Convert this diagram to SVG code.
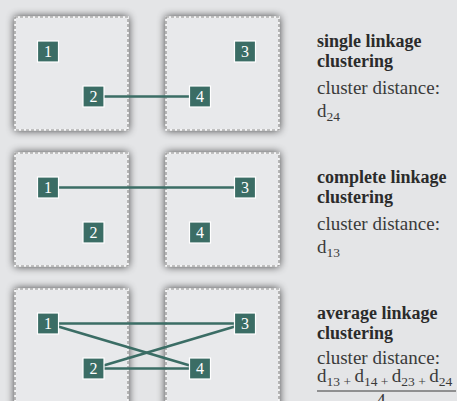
<svg xmlns="http://www.w3.org/2000/svg" width="457" height="401" viewBox="0 0 457 401">
  <defs>
    <filter id="panelShadow" x="-30%" y="-30%" width="160%" height="160%">
      <feGaussianBlur in="SourceAlpha" stdDeviation="4.5"/>
      <feComponentTransfer><feFuncA type="linear" slope="0.75"/></feComponentTransfer>
      <feMerge><feMergeNode/><feMergeNode in="SourceGraphic"/></feMerge>
    </filter>
    <style>
      .panel { fill: #e8e9eb; stroke: #ffffff; stroke-width: 1.2; }
      .panel-dash { fill: none; stroke: #8c8c8c; stroke-width: 1.2; stroke-dasharray: 3 2; }
      .node rect { fill: #3b6d65; stroke: #ffffff; stroke-width: 1.2; }
      .node text { fill: #ffffff; font-family: "Liberation Serif", "Times New Roman", serif; font-size: 16px; text-anchor: middle; }
      .edge { stroke: #3b6d65; stroke-width: 2.6; stroke-linecap: butt; fill: none; }
      .title { font-family: "Liberation Serif", "Times New Roman", serif; font-size: 18px; font-weight: bold; fill: #2b2b2b; }
      .body { font-family: "Liberation Serif", "Times New Roman", serif; font-size: 19px; fill: #3a3a3a; }
      .sub { font-size: 13.5px; }
    </style>
  </defs>

  <rect width="457" height="401" fill="#e4e5e7"/>

  <!-- cluster panels -->
  <g id="panels">
    <g filter="url(#panelShadow)">
      <rect class="panel" x="15" y="17" width="113" height="113"/>
      <rect class="panel" x="166" y="17" width="113" height="113"/>
      <rect class="panel" x="15" y="153" width="113" height="113"/>
      <rect class="panel" x="166" y="153" width="113" height="113"/>
      <rect class="panel" x="15" y="289" width="113" height="130"/>
      <rect class="panel" x="166" y="289" width="113" height="130"/>
    </g>
    <rect class="panel-dash" x="15" y="17" width="113" height="113"/>
    <rect class="panel-dash" x="166" y="17" width="113" height="113"/>
    <rect class="panel-dash" x="15" y="153" width="113" height="113"/>
    <rect class="panel-dash" x="166" y="153" width="113" height="113"/>
    <rect class="panel-dash" x="15" y="289" width="113" height="130"/>
    <rect class="panel-dash" x="166" y="289" width="113" height="130"/>
  </g>

  <!-- connectors -->
  <g id="connectors">
    <line class="edge" x1="93.5" y1="96.5" x2="200" y2="96.5"/>
    <line class="edge" x1="48" y1="187.5" x2="245" y2="187.5"/>
    <line class="edge" x1="48" y1="323.5" x2="245" y2="323.5"/>
    <line class="edge" x1="48" y1="323.5" x2="200" y2="368.5"/>
    <line class="edge" x1="93.5" y1="368.5" x2="245" y2="323.5"/>
    <line class="edge" x1="93.5" y1="368.5" x2="200" y2="368.5"/>
  </g>

  <!-- single linkage -->
  <g id="s1" class="node"><rect x="37.5" y="41" width="21" height="21"/><text x="48" y="57">1</text></g>
  <g id="s2" class="node"><rect x="83" y="86" width="21" height="21"/><text x="93.5" y="102">2</text></g>
  <g id="s3" class="node"><rect x="234.5" y="41" width="21" height="21"/><text x="245" y="57">3</text></g>
  <g id="s4" class="node"><rect x="189.5" y="86" width="21" height="21"/><text x="200" y="102">4</text></g>

  <!-- complete linkage -->
  <g id="c1" class="node"><rect x="37.5" y="177" width="21" height="21"/><text x="48" y="193">1</text></g>
  <g id="c2" class="node"><rect x="83" y="222" width="21" height="21"/><text x="93.5" y="238">2</text></g>
  <g id="c3" class="node"><rect x="234.5" y="177" width="21" height="21"/><text x="245" y="193">3</text></g>
  <g id="c4" class="node"><rect x="189.5" y="222" width="21" height="21"/><text x="200" y="238">4</text></g>

  <!-- average linkage -->
  <g id="a1" class="node"><rect x="37.5" y="313" width="21" height="21"/><text x="48" y="329">1</text></g>
  <g id="a2" class="node"><rect x="83" y="358" width="21" height="21"/><text x="93.5" y="374">2</text></g>
  <g id="a3" class="node"><rect x="234.5" y="313" width="21" height="21"/><text x="245" y="329">3</text></g>
  <g id="a4" class="node"><rect x="189.5" y="358" width="21" height="21"/><text x="200" y="374">4</text></g>

  <!-- captions -->
  <g id="caption-single">
    <text class="title" x="317" y="47">single linkage</text>
    <text class="title" x="317" y="67">clustering</text>
    <text class="body" x="317" y="94">cluster distance:</text>
    <text class="body" x="317" y="117">d<tspan class="sub" dy="4">24</tspan></text>
  </g>
  <g id="caption-complete">
    <text class="title" x="317" y="183">complete linkage</text>
    <text class="title" x="317" y="203">clustering</text>
    <text class="body" x="317" y="230">cluster distance:</text>
    <text class="body" x="317" y="253">d<tspan class="sub" dy="4">13</tspan></text>
  </g>
  <g id="caption-average">
    <text class="title" x="317" y="319">average linkage</text>
    <text class="title" x="317" y="339">clustering</text>
    <text class="body" x="317" y="364">cluster distance:</text>
    <text class="body" x="317" y="382">d<tspan class="sub" dy="4">13 + </tspan><tspan dy="-4">d</tspan><tspan class="sub" dy="4">14 + </tspan><tspan dy="-4">d</tspan><tspan class="sub" dy="4">23 + </tspan><tspan dy="-4">d</tspan><tspan class="sub" dy="4">24</tspan></text>
    <line x1="317" y1="391" x2="456" y2="391" stroke="#3a3a3a" stroke-width="1"/>
    <text class="body" x="381" y="407" text-anchor="middle">4</text>
  </g>
</svg>
